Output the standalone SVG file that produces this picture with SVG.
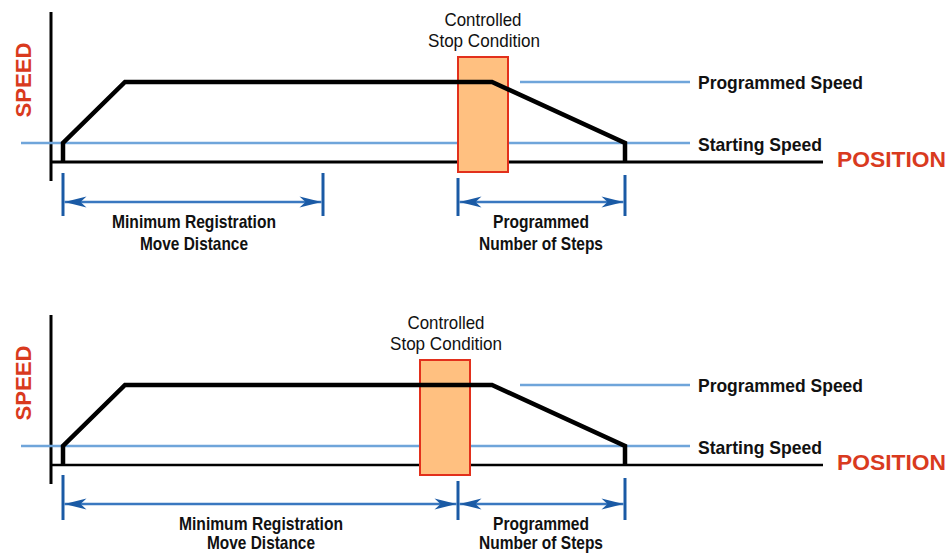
<svg xmlns="http://www.w3.org/2000/svg" width="950" height="554" viewBox="0 0 950 554">
<style>
.axis{stroke:#000;stroke-width:3;fill:none}
.prof{stroke:#000;stroke-width:4.5;fill:none;stroke-linejoin:miter}
.ref{stroke:#6fa5da;stroke-width:2.5;fill:none}
.box{fill:#ffc080;stroke:#e2301c;stroke-width:2}
.tick{stroke:#1a5aa5;stroke-width:3}
.dim{stroke:#3a78c0;stroke-width:2.5;fill:none}
.lbl{font-family:"Liberation Sans",Arial,sans-serif;font-size:19px;fill:#111}
.b{font-weight:bold}
.red{font-family:"Liberation Sans",Arial,sans-serif;font-size:22px;font-weight:bold;fill:#d93a1e}
</style>
<defs>
<marker id="ah" markerUnits="userSpaceOnUse" markerWidth="24" markerHeight="12" viewBox="-23 -6 24 12" refX="0" refY="0" orient="auto-start-reverse">
<path d="M0,0 L-22,-5.5 L-16,0 L-22,5.5 Z" fill="#1a5aa5"/>
</marker>
</defs>

<g id="chart1">
<g id="axes1">
<line class="axis" x1="51" y1="12" x2="51" y2="181"/>
<line class="axis" x1="50" y1="162" x2="823" y2="162"/>
</g>
<g id="refs1">
<line class="ref" x1="21" y1="143" x2="690" y2="143"/>
<line class="ref" x1="520" y1="82" x2="690" y2="82"/>
</g>
<g id="stop1">
<rect class="box" x="458" y="57" width="50" height="115"/>
<text class="lbl" x="483" y="26" text-anchor="middle" textLength="77" lengthAdjust="spacingAndGlyphs">Controlled</text>
<text class="lbl" x="484" y="47" text-anchor="middle" textLength="112" lengthAdjust="spacingAndGlyphs">Stop Condition</text>
</g>
<g id="profile1">
<polyline class="prof" points="63,163 63,143 125,82 492,82 625,143 625,163"/>
</g>
<g id="labels1">
<text class="lbl b" x="698" y="89" textLength="165" lengthAdjust="spacingAndGlyphs">Programmed Speed</text>
<text class="lbl b" x="698" y="151" textLength="124" lengthAdjust="spacingAndGlyphs">Starting Speed</text>
<text class="red" x="837" y="167" textLength="109" lengthAdjust="spacingAndGlyphs">POSITION</text>
<text class="red" transform="translate(31,80) rotate(-90)" text-anchor="middle" textLength="75" lengthAdjust="spacingAndGlyphs">SPEED</text>
</g>
<g id="dims1">
<line class="tick" x1="63" y1="173" x2="63" y2="216"/>
<line class="tick" x1="323" y1="173" x2="323" y2="216"/>
<line class="tick" x1="458" y1="178" x2="458" y2="216"/>
<line class="tick" x1="625" y1="175" x2="625" y2="216"/>
<line class="dim" x1="64.5" y1="202" x2="321.5" y2="202" marker-start="url(#ah)" marker-end="url(#ah)"/>
<line class="dim" x1="459.5" y1="202" x2="623.5" y2="202" marker-start="url(#ah)" marker-end="url(#ah)"/>
<text class="lbl b" x="194" y="228" text-anchor="middle" textLength="164" lengthAdjust="spacingAndGlyphs">Minimum Registration</text>
<text class="lbl b" x="194" y="250" text-anchor="middle" textLength="108" lengthAdjust="spacingAndGlyphs">Move Distance</text>
<text class="lbl b" x="541" y="228" text-anchor="middle" textLength="96" lengthAdjust="spacingAndGlyphs">Programmed</text>
<text class="lbl b" x="541" y="250" text-anchor="middle" textLength="124" lengthAdjust="spacingAndGlyphs">Number of Steps</text>
</g>
</g>

<g id="chart2">
<g id="axes2">
<line class="axis" x1="51" y1="315" x2="51" y2="484"/>
<line class="axis" x1="50" y1="465" x2="823" y2="465" style="stroke-width:2.5"/>
</g>
<g id="refs2">
<line class="ref" x1="21" y1="446" x2="690" y2="446"/>
<line class="ref" x1="520" y1="385" x2="690" y2="385"/>
</g>
<g id="stop2">
<rect class="box" x="420" y="360" width="50" height="115"/>
<text class="lbl" x="446" y="329" text-anchor="middle" textLength="77" lengthAdjust="spacingAndGlyphs">Controlled</text>
<text class="lbl" x="446" y="350" text-anchor="middle" textLength="112" lengthAdjust="spacingAndGlyphs">Stop Condition</text>
</g>
<g id="profile2">
<polyline class="prof" points="63,466 63,446 125,385 492,385 625,446 625,466"/>
</g>
<g id="labels2">
<text class="lbl b" x="698" y="392" textLength="165" lengthAdjust="spacingAndGlyphs">Programmed Speed</text>
<text class="lbl b" x="698" y="454" textLength="124" lengthAdjust="spacingAndGlyphs">Starting Speed</text>
<text class="red" x="837" y="470" textLength="109" lengthAdjust="spacingAndGlyphs">POSITION</text>
<text class="red" transform="translate(31,383) rotate(-90)" text-anchor="middle" textLength="75" lengthAdjust="spacingAndGlyphs">SPEED</text>
</g>
<g id="dims2">
<line class="tick" x1="63" y1="475" x2="63" y2="520"/>
<line class="tick" x1="458" y1="481" x2="458" y2="520"/>
<line class="tick" x1="625" y1="478" x2="625" y2="520"/>
<line class="dim" x1="64.5" y1="504" x2="456.5" y2="504" marker-start="url(#ah)" marker-end="url(#ah)"/>
<line class="dim" x1="459.5" y1="504" x2="623.5" y2="504" marker-start="url(#ah)" marker-end="url(#ah)"/>
<text class="lbl b" x="261" y="530" text-anchor="middle" textLength="164" lengthAdjust="spacingAndGlyphs">Minimum Registration</text>
<text class="lbl b" x="261" y="549" text-anchor="middle" textLength="108" lengthAdjust="spacingAndGlyphs">Move Distance</text>
<text class="lbl b" x="541" y="530" text-anchor="middle" textLength="96" lengthAdjust="spacingAndGlyphs">Programmed</text>
<text class="lbl b" x="541" y="549" text-anchor="middle" textLength="124" lengthAdjust="spacingAndGlyphs">Number of Steps</text>
</g>
</g>
</svg>
